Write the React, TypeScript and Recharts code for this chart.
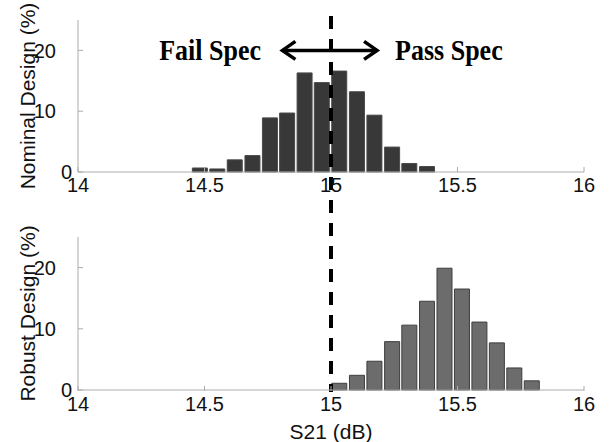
import React from 'react';
import { ComposedChart, Bar, XAxis, YAxis, ReferenceLine, ReferenceDot } from 'recharts';

const nominalBins = [14.482, 14.551, 14.62, 14.69, 14.759, 14.827, 14.896, 14.964, 15.033, 15.103, 15.172, 15.242, 15.31, 15.38];
const nominalPct = [0.66, 0.5, 2.0, 2.7, 8.9, 9.7, 16.3, 14.7, 16.6, 13.2, 9.35, 4.1, 1.4, 0.9];
const robustBins = [15.033, 15.103, 15.172, 15.242, 15.31, 15.38, 15.449, 15.518, 15.587, 15.656, 15.725, 15.794];
const robustPct = [1.1, 2.4, 4.7, 7.9, 10.6, 14.5, 19.9, 16.5, 11.1, 7.7, 3.6, 1.5];
const xTicks = [14, 14.5, 15, 15.5, 16];
const yTicks = [0, 10, 20];
const specLimit = 15;
const arrowFrom = 14.8;
const arrowTo = 15.19;
const arrowLevel = 20;
const failLabel = { x: 14.522, y: 20, text: 'Fail Spec' };
const passLabel = { x: 15.466, y: 20, text: 'Pass Spec' };

const nominalData = nominalBins.map((x, i) => ({ x, v: nominalPct[i] }));
const robustData = robustBins.map((x, i) => ({ x, v: robustPct[i] }));

const FRAME = '#acacac';
const SANS = 'Liberation Sans, Arial, sans-serif';
const SERIF = 'Liberation Serif, Times New Roman, serif';

const XTick = (props: any) => {
  const { x, y, payload } = props;
  return (
    <g>
      <line x1={x} x2={x} y1={y - 6} y2={y - 11} stroke={FRAME} strokeWidth={1} />
      <text x={x} y={y} dy="0.71em" textAnchor="middle" fontSize={20} fontFamily={SANS} fill="#111">
        {payload.value}
      </text>
    </g>
  );
};

const TopTick = (props: any) => {
  const { x, y } = props;
  return <line x1={x} x2={x} y1={y} y2={y + 5} stroke={FRAME} strokeWidth={1} />;
};

const YTick = (props: any) => {
  const { x, y, payload } = props;
  const shift = payload.value === 0 ? 16 : 0;
  return (
    <g>
      <line x1={x + 22} x2={x + 27} y1={y} y2={y} stroke={FRAME} strokeWidth={1} />
      <text x={x + shift} y={y} dy="0.355em" textAnchor="end" fontSize={20} fontFamily={SANS} fill="#111">
        {payload.value}
      </text>
    </g>
  );
};

const RightTick = (props: any) => {
  const { x, y } = props;
  return <line x1={x - 5} x2={x} y1={y} y2={y} stroke={FRAME} strokeWidth={1} />;
};

const yLabel = (text: string) => (props: any) => {
  const vb = props.viewBox || {};
  const cx = (vb.x || 0) + 27;
  const cy = (vb.y || 0) + (vb.height || 0) / 2;
  return (
    <text
      x={cx}
      y={cy}
      transform={`rotate(-90 ${cx} ${cy})`}
      textAnchor="middle"
      dominantBaseline="central"
      fontSize={21}
      fontFamily={SANS}
      fill="#111"
    >
      {text}
    </text>
  );
};

const xLabel = (text: string) => (props: any) => {
  const vb = props.viewBox || {};
  const cx = (vb.x || 0) + (vb.width || 0) / 2;
  const cy = (vb.y || 0) + 41;
  return (
    <text x={cx} y={cy} textAnchor="middle" dominantBaseline="central" fontSize={21} fontFamily={SANS} fill="#111">
      {text}
    </text>
  );
};

const specLabel = (text: string) => (props: any) => {
  const vb = props.viewBox || {};
  const cx = (vb.x || 0) + (vb.width || 0) / 2;
  const cy = (vb.y || 0) + (vb.height || 0) / 2;
  return (
    <text
      x={0}
      y={0}
      transform={`translate(${cx} ${cy}) scale(1 1.17)`}
      dy="0.33em"
      textAnchor="middle"
      fontSize={26}
      fontWeight="bold"
      fontFamily={SERIF}
      fill="#000"
    >
      {text}
    </text>
  );
};

const dashShape = (extUp: number, extDown: number) => (p: any) => {
  const top = Math.min(p.y1, p.y2) - extUp;
  const bottom = Math.max(p.y1, p.y2) + extDown;
  return <line x1={p.x1} x2={p.x2} y1={top} y2={bottom} stroke="#000" strokeWidth={4} strokeDasharray="13 10" />;
};

const ArrowShape = (p: any) => {
  const l = Math.min(p.x1, p.x2);
  const r = Math.max(p.x1, p.x2);
  const y = p.y1;
  return (
    <g stroke="#000" strokeWidth={3.5} fill="none" strokeLinecap="butt" strokeLinejoin="miter">
      <line x1={l + 2} x2={r - 2} y1={y} y2={y} />
      <polyline points={`${l + 15},${y - 9} ${l + 2},${y} ${l + 15},${y + 9}`} />
      <polyline points={`${r - 15},${y - 9} ${r - 2},${y} ${r - 15},${y + 9}`} />
    </g>
  );
};

export default function App() {
  return (
    <div style={{ position: 'absolute', left: 0, top: 0, width: 615, height: 442, background: '#fff' }}>
      <ComposedChart width={615} height={200} data={nominalData} margin={{ top: 20, right: 31, bottom: 0, left: 0 }}>
        <XAxis
          dataKey="x"
          type="number"
          domain={[14, 16]}
          ticks={xTicks}
          height={28}
          tickSize={0}
          tickMargin={6}
          tickLine={false}
          axisLine={{ stroke: FRAME }}
          tick={<XTick />}
          interval={0}
          allowDataOverflow
        />
        <XAxis
          xAxisId="t"
          orientation="top"
          type="number"
          domain={[14, 16]}
          ticks={xTicks}
          height={0}
          tickSize={0}
          tickMargin={0}
          tickLine={false}
          axisLine={{ stroke: FRAME }}
          tick={<TopTick />}
          interval={0}
        />
        <YAxis
          type="number"
          domain={[0, 25]}
          ticks={yTicks}
          width={78}
          tickSize={0}
          tickMargin={22}
          tickLine={false}
          axisLine={{ stroke: FRAME }}
          tick={<YTick />}
          interval={0}
          label={{ content: yLabel('Nominal Design (%)') } as any}
        />
        <YAxis
          yAxisId="r"
          orientation="right"
          type="number"
          domain={[0, 25]}
          ticks={yTicks}
          width={0}
          tickSize={0}
          tickMargin={0}
          tickLine={false}
          axisLine={{ stroke: FRAME }}
          tick={<RightTick />}
          interval={0}
        />
        <Bar dataKey="v" fill="#383838" stroke="#4a4a4a" strokeWidth={1} barSize={15} isAnimationActive={false} />
        <ReferenceLine x={specLimit} shape={dashShape(4, 28)} />
        <ReferenceLine
          segment={[
            { x: arrowFrom, y: arrowLevel },
            { x: arrowTo, y: arrowLevel },
          ]}
          shape={ArrowShape}
        />
        <ReferenceDot
          x={failLabel.x}
          y={failLabel.y}
          r={0}
          fill="none"
          stroke="none"
          label={{ content: specLabel(failLabel.text) } as any}
        />
        <ReferenceDot
          x={passLabel.x}
          y={passLabel.y}
          r={0}
          fill="none"
          stroke="none"
          label={{ content: specLabel(passLabel.text) } as any}
        />
      </ComposedChart>
      <ComposedChart width={615} height={242} data={robustData} margin={{ top: 37, right: 31, bottom: 0, left: 0 }}>
        <XAxis
          dataKey="x"
          type="number"
          domain={[14, 16]}
          ticks={xTicks}
          height={52}
          tickSize={0}
          tickMargin={7}
          tickLine={false}
          axisLine={{ stroke: FRAME }}
          tick={<XTick />}
          interval={0}
          allowDataOverflow
          label={{ content: xLabel('S21 (dB)') } as any}
        />
        <XAxis
          xAxisId="t"
          orientation="top"
          type="number"
          domain={[14, 16]}
          ticks={xTicks}
          height={0}
          tickSize={0}
          tickMargin={0}
          tickLine={false}
          axisLine={{ stroke: FRAME }}
          tick={<TopTick />}
          interval={0}
        />
        <YAxis
          type="number"
          domain={[0, 25]}
          ticks={yTicks}
          width={78}
          tickSize={0}
          tickMargin={22}
          tickLine={false}
          axisLine={{ stroke: FRAME }}
          tick={<YTick />}
          interval={0}
          label={{ content: yLabel('Robust Design (%)') } as any}
        />
        <YAxis
          yAxisId="r"
          orientation="right"
          type="number"
          domain={[0, 25]}
          ticks={yTicks}
          width={0}
          tickSize={0}
          tickMargin={0}
          tickLine={false}
          axisLine={{ stroke: FRAME }}
          tick={<RightTick />}
          interval={0}
        />
        <Bar dataKey="v" fill="#6c6c6c" stroke="#3e3e3e" strokeWidth={1} barSize={15} isAnimationActive={false} />
        <ReferenceLine x={specLimit} shape={dashShape(37, 2)} />
      </ComposedChart>
    </div>
  );
}
